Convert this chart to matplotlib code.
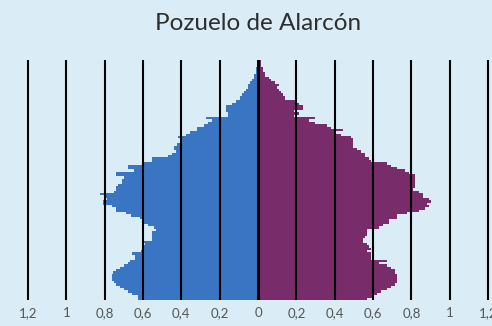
import matplotlib.pyplot as plt

# Population share (%) by single year of age, 0 to 100
ages = list(range(101))
hombres = [
    0.626, 0.626, 0.657, 0.68, 0.70, 0.72, 0.74, 0.75, 0.76, 0.76,
    0.76, 0.755, 0.74, 0.72, 0.70, 0.68, 0.668, 0.64, 0.64, 0.657,
    0.61, 0.60, 0.595, 0.59, 0.595, 0.553, 0.553, 0.553, 0.553, 0.53,
    0.54, 0.574, 0.605, 0.605, 0.615, 0.66, 0.69, 0.74, 0.74, 0.76,
    0.81, 0.81, 0.79, 0.80, 0.824, 0.75, 0.74, 0.74, 0.73, 0.71,
    0.71, 0.70, 0.74, 0.74, 0.647, 0.678, 0.678, 0.605, 0.553, 0.553,
    0.47, 0.45, 0.43, 0.438, 0.438, 0.42, 0.40, 0.40, 0.417, 0.375,
    0.355, 0.32, 0.32, 0.28, 0.26, 0.24, 0.27, 0.156, 0.156, 0.167,
    0.167, 0.167, 0.136, 0.115, 0.094, 0.094, 0.083, 0.073, 0.063, 0.052,
    0.052, 0.042, 0.031, 0.02, 0.02, 0.01, 0.01, 0.01, 0.005, 0.003,
    0.002,
]
mujeres = [
    0.57, 0.60, 0.62, 0.642, 0.673, 0.694, 0.715, 0.725, 0.725, 0.725,
    0.725, 0.715, 0.715, 0.694, 0.673, 0.63, 0.673, 0.59, 0.59, 0.59,
    0.57, 0.59, 0.579, 0.57, 0.548, 0.548, 0.558, 0.57, 0.57, 0.57,
    0.63, 0.652, 0.683, 0.683, 0.725, 0.725, 0.777, 0.84, 0.87, 0.89,
    0.88, 0.90, 0.89, 0.86, 0.86, 0.84, 0.809, 0.819, 0.819, 0.819,
    0.819, 0.819, 0.819, 0.788, 0.767, 0.725, 0.694, 0.673, 0.59, 0.579,
    0.558, 0.558, 0.537, 0.516, 0.495, 0.495, 0.495, 0.495, 0.485, 0.433,
    0.40, 0.443, 0.38, 0.36, 0.297, 0.266, 0.297, 0.19, 0.214, 0.19,
    0.235, 0.235, 0.214, 0.193, 0.141, 0.141, 0.13, 0.12, 0.11, 0.10,
    0.11, 0.089, 0.068, 0.057, 0.037, 0.037, 0.026, 0.026, 0.016, 0.016,
    0.016,
]
ticks = [-1.2, -1.0, -0.8, -0.6, -0.4, -0.2, 0.0, 0.2, 0.4, 0.6, 0.8, 1.0, 1.2]
tick_labels = ["1,2", "1", "0,8", "0,6", "0,4", "0,2", "0",
               "0,2", "0,4", "0,6", "0,8", "1", "1,2"]
titulo = "Pozuelo de Alarcón"

bg = "#daedf6"
fig = plt.figure(figsize=(4.92, 3.26), dpi=100, facecolor=bg)
ax = fig.add_axes([0, 26 / 326, 1, 240 / 326], facecolor=bg)

ax.barh(ages, [-v for v in hombres], height=1.0, color="#3a75c4", linewidth=0)
ax.barh(ages, mujeres, height=1.0, color="#782c69", linewidth=0)

# grid lines drawn over the bars, thicker at zero
for t in ticks:
    ax.axvline(t, color="black", lw=2.2 if t == 0 else 1.5, zorder=3)

ax.set_xlim(-258 / 191.7, 234 / 191.7)
ax.set_ylim(-0.5, 100.5)
ax.set_xticks(ticks)
ax.set_xticklabels(tick_labels, fontsize=9.5, color="#555555", family="Lato")
ax.tick_params(axis="x", length=0, pad=5)
ax.set_yticks([])
for s in ax.spines.values():
    s.set_visible(False)

fig.text(258 / 492, 1 - 30 / 326, titulo, ha="center", va="baseline",
         fontsize=17.5, color="#2e2e2e", family="Lato", fontweight="normal")

fig.savefig("out.png", dpi=100, facecolor=bg)
